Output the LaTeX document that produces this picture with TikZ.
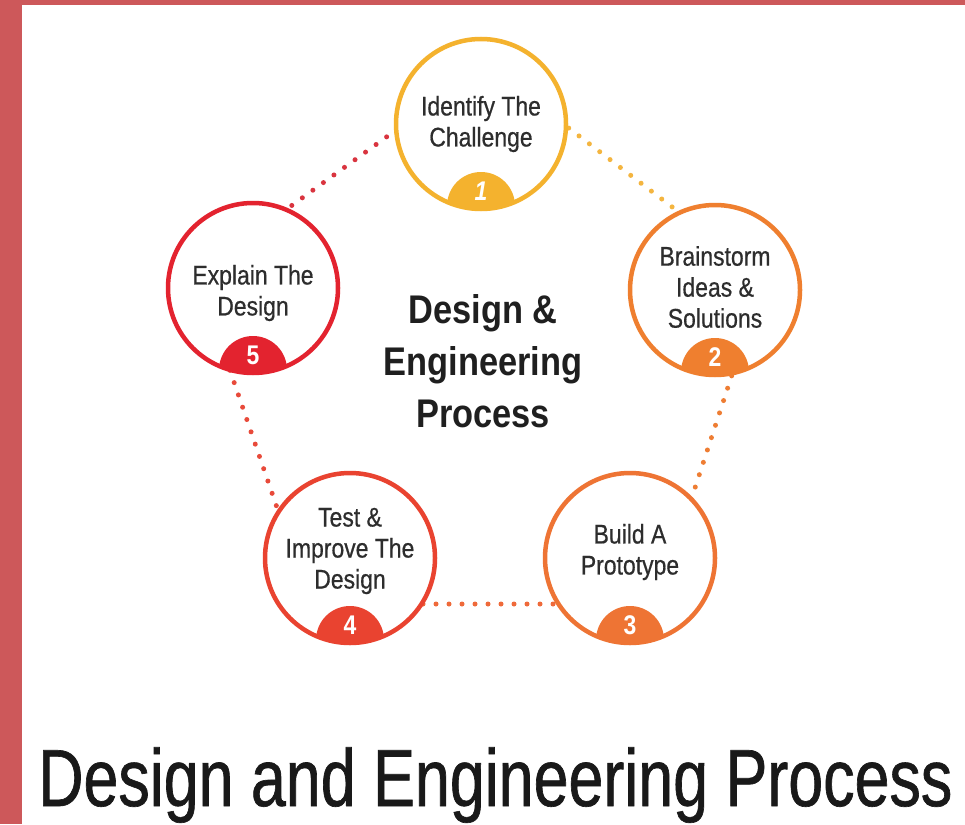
\documentclass[tikz,border=0pt]{standalone}
\usepackage{fontspec}
\setmainfont{Liberation Sans}
\newfontfamily\circfont[FakeStretch=0.85,FakeBold=0.6]{Liberation Sans}
\newfontfamily\numfont[FakeStretch=0.85]{Liberation Sans}
\newfontfamily\centfont[FakeStretch=0.86]{Liberation Sans}
\newfontfamily\titlefont[FakeStretch=0.775,FakeBold=0.8]{Liberation Sans}
\definecolor{borderred}{RGB}{205,88,90}
\definecolor{cA}{RGB}{244,178,46}
\definecolor{cB}{RGB}{239,127,47}
\definecolor{cC}{RGB}{238,116,52}
\definecolor{cD}{RGB}{233,67,48}
\definecolor{cE}{RGB}{227,35,47}
\definecolor{dA}{RGB}{244,181,63}
\definecolor{dB}{RGB}{238,125,51}
\definecolor{dC}{RGB}{239,106,58}
\definecolor{dD}{RGB}{232,74,58}
\definecolor{dE}{RGB}{217,52,63}
\definecolor{txt}{RGB}{45,45,45}
\begin{document}
\begin{tikzpicture}[x=1pt,y=-1pt,
  dotline/.style={line width=5pt, line cap=round, dash pattern=on 0pt off 13pt},
  stepcircle/.style={circle, draw=#1, line width=4.5pt, fill=white, minimum size=170pt, inner sep=0pt},
  steptext/.style={align=center, text=txt, font=\circfont\fontsize{27}{31}\selectfont},
  numtext/.style={text=white, font=\numfont\bfseries\fontsize{27}{27}\selectfont}
]
\useasboundingbox (0,0) rectangle (965,824);
\fill[white] (0,0) rectangle (965,824);
\fill[borderred] (0,0) rectangle (22,824);
\fill[borderred] (0,0) rectangle (965,5);

% pentagon of dotted connectors
\coordinate (v1) at (486,65);
\coordinate (v2) at (764,277);
\coordinate (v3) at (657,604);
\coordinate (v4) at (310,604);
\coordinate (v5) at (197,274);
\draw[dotline, dA] (v1) -- (v2);
\draw[dotline, dB] (v2) -- (v3);
\draw[dotline, dC] (v3) -- (v4);
\draw[dotline, dD] (v4) -- (v5);
\draw[dotline, dE] (v5) -- (v1);

% circles
\node[stepcircle=cA] (c1) at (481,124) {};
\node[stepcircle=cB] (c2) at (715,290) {};
\node[stepcircle=cC] (c3) at (630,558) {};
\node[stepcircle=cD] (c4) at (350,558) {};
\node[stepcircle=cE] (c5) at (253,288) {};

% number tabs
\foreach \c/\col in {c1/cA,c2/cB,c3/cC,c4/cD,c5/cE}{
  \begin{scope}
    \clip (\c) circle (85pt);
    \fill[\col] ([yshift=-82pt]\c.center) circle (34pt);
  \end{scope}
}
\node[numtext] (n1) at ([yshift=-67pt]c1.center) {\itshape 1};
\node[numtext] (n2) at ([yshift=-67pt]c2.center) {2};
\node[numtext] (n3) at ([yshift=-67pt]c3.center) {3};
\node[numtext] (n4) at ([yshift=-67pt]c4.center) {4};
\node[numtext] (n5) at ([yshift=-67pt]c5.center) {5};

% step labels
\node[steptext] (t1) at (481,124) {Identify The\\Challenge};
\node[steptext] (t2) at (715,287) {Brainstorm\\Ideas \&\\Solutions};
\node[steptext] (t3) at (630,552) {Build A\\Prototype};
\node[steptext] (t4) at (350,551) {Test \&\\Improve The\\Design};
\node[steptext] (t5) at (253,293) {Explain The\\Design};

% centre title
\node[align=center, text=black!88, font=\centfont\bfseries\fontsize{40}{52}\selectfont] (ct) at (483,361) {Design \&\\Engineering\\Process};

% bottom title
\node[anchor=base west, inner sep=0pt, text=black!90, font=\titlefont\fontsize{81}{81}\selectfont] (title) at (38,806) {Design and Engineering Process};
\end{tikzpicture}
\end{document}
